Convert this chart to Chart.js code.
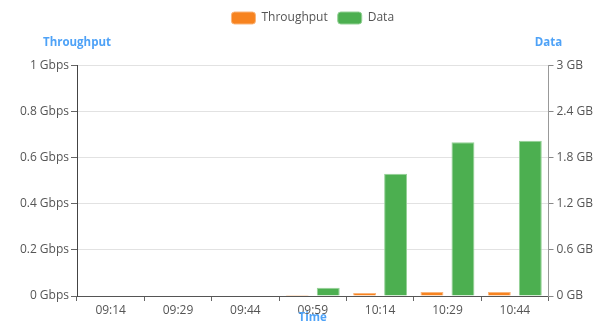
<!DOCTYPE html>
<html>
<head>
<meta charset="utf-8">
<script src="https://cdn.jsdelivr.net/npm/chart.js@4/dist/chart.umd.min.js"></script>
<style>
  html, body { margin: 0; padding: 0; background: #fff; }
  #wrap { width: 602px; height: 327px; position: relative; }
</style>
</head>
<body>
<div id="wrap"><canvas id="chart" width="602" height="327"></canvas></div>
<script>
// Sample times (x categories)
const timeLabels = ['09:14', '09:29', '09:44', '09:59', '10:14', '10:29', '10:44'];
// Throughput per interval, in Gbps (left axis)
const throughputGbps = [0, 0, 0, 0.004, 0.013, 0.017, 0.017];
// Data transferred per interval, in GB (right axis)
const dataGB = [0, 0, 0, 0.108, 1.59, 2.0, 2.02];
// Tick values for both value axes
const throughputTicks = [0, 0.2, 0.4, 0.6, 0.8, 1];
const dataTicks = [0, 0.6, 1.2, 1.8, 2.4, 3];

const FONT = '"Open Sans", "Noto Sans", sans-serif';
const TITLE_COLOR = '#4ea2f7';

// Axis captions drawn horizontally above the value axes and below the time axis
const axisCaptions = {
  id: 'axisCaptions',
  afterDraw(chart) {
    const { ctx, chartArea, scales } = chart;
    ctx.save();
    ctx.font = 'bold 11.5px ' + FONT;
    ctx.fillStyle = TITLE_COLOR;
    ctx.textAlign = 'center';
    ctx.textBaseline = 'middle';
    ctx.fillText('Throughput', scales.yT.right, 43);
    ctx.fillText('Data', scales.yD.left, 43);
    ctx.fillText('Time', (chartArea.left + chartArea.right) / 2, 318);
    ctx.restore();
  }
};

// Extra room between the legend and the plot
const legendSpacing = {
  id: 'legendSpacing',
  beforeInit(chart) {
    const origFit = chart.legend.fit;
    chart.legend.fit = function () {
      origFit.bind(chart.legend)();
      this.height += 31.5;
    };
  }
};

new Chart(document.getElementById('chart'), {
  type: 'bar',
  data: {
    labels: timeLabels,
    datasets: [
      {
        label: 'Throughput',
        data: throughputGbps,
        yAxisID: 'yT',
        backgroundColor: '#f7831f',
        borderColor: '#fbb57a',
        borderWidth: 1
      },
      {
        label: 'Data',
        data: dataGB,
        yAxisID: 'yD',
        backgroundColor: '#4caf50',
        borderColor: '#94d196',
        borderWidth: 1
      }
    ]
  },
  options: {
    responsive: false,
    animation: false,
    devicePixelRatio: 1,
    layout: { padding: { left: 0, right: 0, top: 2, bottom: 0 } },
    datasets: {
      bar: { categoryPercentage: 0.92, barPercentage: 0.74 }
    },
    plugins: {
      legend: {
        position: 'top',
        fullSize: false,
        labels: {
          boxWidth: 24,
          boxHeight: 12,
          useBorderRadius: true,
          borderRadius: 3,
          padding: 10,
          color: '#555',
          font: { family: FONT, size: 12 }
        }
      },
      tooltip: { enabled: false }
    },
    scales: {
      x: {
        offset: true,
        grid: {
          display: true,
          drawOnChartArea: false,
          tickLength: 5,
          tickColor: '#666'
        },
        border: { color: '#555' },
        ticks: {
          color: '#555',
          padding: 2,
          maxRotation: 0,
          font: { family: FONT, size: 12 }
        },
        afterFit(scale) { scale.height = 31; }
      },
      yT: {
        position: 'left',
        min: 0,
        max: 1,
        afterBuildTicks(scale) { scale.ticks = throughputTicks.map(v => ({ value: v })); },
        grid: { color: '#e2e2e2', tickColor: '#666', tickLength: 6 },
        border: { color: '#444' },
        ticks: {
          color: '#555',
          padding: 2,
          font: { family: FONT, size: 12 },
          callback: v => v + ' Gbps'
        },
        afterFit(scale) { scale.width = 77; }
      },
      yD: {
        position: 'right',
        min: 0,
        max: 3,
        afterBuildTicks(scale) { scale.ticks = dataTicks.map(v => ({ value: v })); },
        grid: { drawOnChartArea: false, tickColor: '#888', tickLength: 5 },
        border: { color: '#999' },
        ticks: {
          color: '#555',
          padding: 3,
          font: { family: FONT, size: 12 },
          callback: v => v + ' GB'
        },
        afterFit(scale) { scale.width = 53.5; }
      }
    }
  },
  plugins: [legendSpacing, axisCaptions]
});
</script>
</body>
</html>
